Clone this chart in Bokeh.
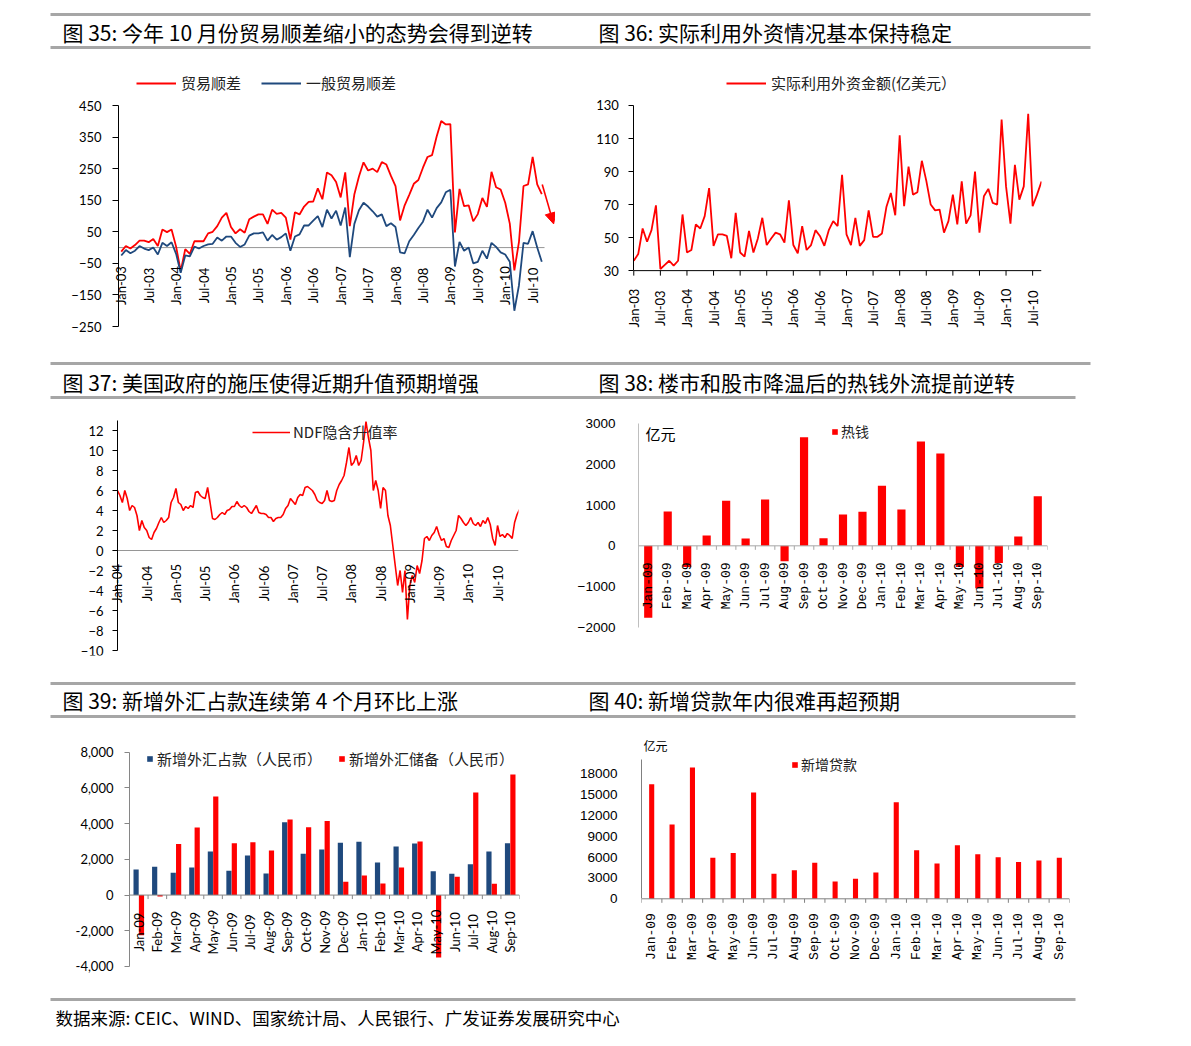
import math
from bokeh.plotting import figure
from bokeh.layouts import column, row
from bokeh.models import (Range1d, FixedTicker, Legend, LegendItem, Label, Arrow,
                          NormalHead, ColumnDataSource, Span)
from bokeh.transform import dodge
from bokeh.core.properties import value
from bokeh.embed import file_html
from bokeh.resources import INLINE

RED = "#FF0000"
BLUE = "#1F497D"
CJK = "Noto Sans CJK SC"
NUM = "Lato"
ARIAL = "Liberation Sans"
MONO = "Liberation Mono"

# ---------------- data ----------------
# Fig 35: monthly trade balance, Jan-03 .. Sep-10 (100 million USD)
trade_balance = [
    -13, 5, -3, 8, 22, 22, 17, 27, 5, 57, 49, 57,
    3, -75, -5, -20, 20, 20, 20, 45, 50, 68, 95, 110,
    65, 45, 58, 47, 90, 98, 105, 105, 75, 120, 107, 110,
    95, 25, 112, 105, 130, 145, 146, 188, 153, 238, 229, 208,
    159, 238, 68, 169, 225, 270, 244, 250, 239, 271, 263, 227,
    195, 86, 134, 167, 202, 214, 253, 287, 293, 352, 401, 390,
    391, 48, 186, 131, 134, 83, 106, 157, 129, 240, 191, 184,
    142, 76, -72, 17, 195, 200, 287, 200, 169]
general_trade = [
    -25, -8, -18, -10, 5, -3, -8, 0, -22, 15, 5, 17,
    -20, -80, -25, -28, 3, -3, 5, 10, 12, 32, 22, 35,
    35, 15, 2, 10, 38, 45, 45, 48, 22, 40, 25, 33,
    45, -10, 35, 42, 70, 70, 85, 100, 65, 120, 92, 117,
    70, 127, -30, 75, 118, 142, 130, 115, 98, 105, 68, 77,
    65, -15, -18, 20, 40, 62, 82, 120, 95, 125, 143, 175,
    183, -60, 18, -10, 0, -50, -45, -10, -35, 15, 2, -15,
    -22, -45, -200, -120, 15, 12, 52, 0, -45]
fig35_tick_labels = ["Jan-03", "Jul-03", "Jan-04", "Jul-04", "Jan-05", "Jul-05",
                     "Jan-06", "Jul-06", "Jan-07", "Jul-07", "Jan-08", "Jul-08",
                     "Jan-09", "Jul-09", "Jan-10", "Jul-10"]
arrow_start = (92.1, 200)
arrow_end = (94.6, 75)

# Fig 36: FDI actually utilised, Jan-03 .. Sep-10 (100 million USD)
fdi = [
    36, 40, 55.5, 47.5, 54.5, 69.5, 31, 33.5, 36, 33, 36, 64,
    41, 42.5, 58, 55.5, 63, 80, 45, 52, 52, 51, 37.5, 65,
    41, 38.5, 54, 41, 49.5, 62, 45.5, 49.5, 53, 52, 47, 72.5,
    45.5, 40.5, 57, 42.5, 45.5, 54.5, 51, 45, 54.5, 60, 57, 88,
    52, 45.5, 62, 45, 48.5, 66.5, 50.5, 50.5, 52.5, 68.5, 77, 63.5,
    112, 69, 93, 76, 77.5, 96.5, 84.5, 70, 66.5, 67, 53, 60,
    76, 58, 84, 58.5, 63.5, 90, 53, 75, 79.5, 71, 70, 121.5,
    81, 58.5, 94, 73, 81, 125, 69, 76, 84]
fig36_tick_labels = fig35_tick_labels

# Fig 37: NDF implied appreciation (%), read every half month from Jan-04
ndf = [
    6.0, 5.5, 4.8, 6.0, 5.2, 4.0, 4.5, 4.3, 3.5, 2.0, 3.0, 2.3,
    2.0, 1.3, 1.1, 1.8, 2.2, 2.8, 3.3, 2.8, 3.0, 3.3, 4.8, 5.3,
    6.2, 4.8, 4.6, 4.0, 4.4, 4.2, 4.5, 4.3, 5.8, 5.9, 5.5, 5.3,
    5.2, 6.3, 4.8, 3.2, 3.1, 3.3, 3.6, 3.8, 3.6, 4.0, 4.1, 4.4,
    4.4, 4.9, 4.5, 4.3, 4.5, 4.3, 3.9, 3.7, 4.1, 4.5, 3.8, 3.7,
    3.7, 3.6, 3.3, 3.3, 2.9, 3.2, 3.3, 3.3, 3.6, 4.2, 4.5, 5.2,
    4.9, 4.6, 5.3, 5.6, 5.5, 6.3, 6.4, 6.2, 6.0, 5.6, 5.0, 4.8,
    4.7, 5.0, 6.0, 5.0, 4.9, 5.0, 6.0, 6.6, 7.0, 7.5, 8.8, 10.3,
    8.5, 8.8, 9.5, 8.5, 9.0, 10.8, 12.9, 11.3, 10.0, 6.0, 7.0, 6.0,
    4.2, 6.3, 6.0, 3.5, 2.5, 0.5, -1.5, -3.5, -2.0, -4.2, -2.0, -6.9,
    -3.5, -2.5, -3.2, -1.5, -2.3, -1.0, 1.2, 1.4, 1.0, 1.5, 1.8, 2.4,
    1.6, 1.0, 1.2, 0.4, 0.3, 1.0, 1.5, 2.0, 3.5, 3.2, 2.8, 2.5,
    2.8, 3.3, 2.7, 2.5, 2.8, 2.4, 3.0, 2.7, 3.3, 2.6, 1.2, 0.5,
    2.5, 1.4, 1.6, 1.3, 1.7, 1.5, 1.2, 2.8, 3.6, 4.1]
ndf_month = [0.5 * k for k in range(len(ndf))]  # months since Jan-04
fig37_tick_labels = ["Jan-04", "Jul-04", "Jan-05", "Jul-05", "Jan-06", "Jul-06",
                     "Jan-07", "Jul-07", "Jan-08", "Jul-08", "Jan-09", "Jul-09",
                     "Jan-10", "Jul-10"]

# Fig 38-40: monthly, Jan-09 .. Sep-10
months = ["Jan-09", "Feb-09", "Mar-09", "Apr-09", "May-09", "Jun-09", "Jul-09",
          "Aug-09", "Sep-09", "Oct-09", "Nov-09", "Dec-09", "Jan-10", "Feb-10",
          "Mar-10", "Apr-10", "May-10", "Jun-10", "Jul-10", "Aug-10", "Sep-10"]
hot_money = [-1770, 844, -520, 254, 1107, 180, 1139, -377, 2672, 189, 770, 836,
             1475, 893, 2566, 2270, -520, -1041, -420, 230, 1221]
fx_funds = [1431, 1581, 1245, 1545, 2440, 1357, 2215, 1208, 4082, 2309, 2551, 2924,
            2980, 1823, 2719, 2887, 1338, 1189, 1730, 2440, 2905]
fx_reserves = [-2250, -80, 2863, 3778, 5514, 2900, 2956, 2490, 4227, 3800, 4153, 741,
               1095, 648, 1544, 2993, -3500, 1021, 5739, 629, 6748]
new_loans = [16500, 10700, 18900, 5900, 6600, 15300, 3600, 4100, 5200, 2500, 2900, 3800,
             13900, 7000, 5100, 7700, 6400, 6000, 5300, 5500, 5900]

titles = {
    "35": "图 35: 今年 10 月份贸易顺差缩小的态势会得到逆转",
    "36": "图 36: 实际利用外资情况基本保持稳定",
    "37": "图 37: 美国政府的施压使得近期升值预期增强",
    "38": "图 38: 楼市和股市降温后的热钱外流提前逆转",
    "39": "图 39: 新增外汇占款连续第 4 个月环比上涨",
    "40": "图 40: 新增贷款年内很难再超预期",
}
source_note = "数据来源: CEIC、WIND、国家统计局、人民银行、广发证券发展研究中心"


# ---------------- helpers ----------------
def make_fig(w, h, xr, yr, bl, br, bt, bb):
    p = figure(width=w, height=h, x_range=xr, y_range=yr, toolbar_location=None,
               output_backend="svg", min_border_left=bl, min_border_right=br,
               min_border_top=bt, min_border_bottom=bb)
    p.outline_line_color = None
    p.xgrid.visible = False
    p.ygrid.visible = False
    p.background_fill_color = "white"
    p.border_fill_color = "white"
    return p


def style_yaxis(ax, font, size, line_color, tick_out, standoff, ticks, bounds,
                overrides=None, at=None):
    ax.axis_line_color = line_color
    ax.axis_line_width = 1
    ax.major_tick_line_color = line_color if tick_out else None
    ax.major_tick_out = tick_out
    ax.major_tick_in = 0
    ax.minor_tick_line_color = None
    ax.major_label_text_font = font
    ax.major_label_text_font_size = size
    ax.major_label_text_color = "#000000"
    ax.major_label_standoff = standoff
    ax.ticker = FixedTicker(ticks=ticks)
    ax.bounds = bounds
    if overrides:
        ax.major_label_overrides = overrides
    if at is not None:
        ax.fixed_location = at


def base_axis(p, at, color, ticks_x=None, tick_len=4, span=None):
    # horizontal category axis drawn at a data level, with downward tick marks
    if span is None:
        p.add_layout(Span(location=at, dimension="width", line_color=color, line_width=1))
    else:
        p.segment(x0=span[0], y0=at, x1=span[1], y1=at, line_color=color, line_width=1)
    if ticks_x:
        p.ray(x=ticks_x, y=[at] * len(ticks_x), length=tick_len, length_units="screen",
              angle=-math.pi / 2, line_color=color, line_width=1)


def axis_labels(p, xs, labels, at, offset, font, size="13px"):
    # vertical category labels centred below the axis level (Excel style)
    p.text(x=xs, y=[at] * len(xs), text=labels, angle=math.pi / 2, text_align="center",
           text_baseline="middle", y_offset=offset, text_font=value(font),
           text_font_size=value(size), text_color="#000000")


def make_legend(items, x, y, size, glyph_w, glyph_h, spacing=20, standoff=5):
    return Legend(items=items, location=(x, y), orientation="horizontal", padding=0,
                  margin=0, spacing=spacing, glyph_width=glyph_w, glyph_height=glyph_h,
                  label_standoff=standoff, label_text_font=CJK, label_text_font_size=size,
                  label_text_color="#222222", border_line_color=None,
                  background_fill_alpha=0)


def strip(h, lines, texts, size="21px"):
    s = figure(width=1191, height=h, x_range=Range1d(0, 1191), y_range=Range1d(h, 0),
               toolbar_location=None, output_backend="svg", min_border=0,
               x_axis_type=None, y_axis_type=None)
    s.outline_line_color = None
    s.xgrid.visible = False
    s.ygrid.visible = False
    for (x0, x1, y) in lines:
        s.segment(x0=x0, y0=y, x1=x1, y1=y, line_color="#A6A6A6", line_width=3)
    for (x, y, t) in texts:
        s.add_layout(Label(x=x, y=y, text=t, text_font=CJK, text_font_size=size,
                           text_color="#000000", text_baseline="middle"))
    return s


# ======== Row 1 (frames: top 10, bottom 15 in both plots) ========
# ---------------- Fig 35 ----------------
n1 = len(trade_balance)
f1 = make_fig(555, 300, Range1d(-12.2, 95.0), Range1d(-294.3, 576.7), 65, 0, 10, 15)
idx1 = list(range(n1))
f1.segment(x0=-0.6, y0=0, x1=n1 - 0.4, y1=0, line_color="#969696", line_width=1)
r_tb = f1.line(idx1, trade_balance, line_color=RED, line_width=1.8)
r_gt = f1.line(idx1, general_trade, line_color=BLUE, line_width=1.8)
f1.add_layout(Arrow(end=NormalHead(size=11, fill_color=RED, line_color=RED),
                    x_start=arrow_start[0], y_start=arrow_start[1],
                    x_end=arrow_end[0], y_end=arrow_end[1],
                    line_color=RED, line_width=1.6))
style_yaxis(f1.yaxis[0], NUM, "13px", "#000000", 6, 11,
            [-250, -150, -50, 50, 150, 250, 350, 450], (-250, 450), at=-0.6)
f1.xaxis.visible = False
axis_labels(f1, [6 * k for k in range(len(fig35_tick_labels))], fig35_tick_labels,
            0, 38, NUM)
f1.add_layout(make_legend([LegendItem(label="贸易顺差", renderers=[r_tb]),
                           LegendItem(label="一般贸易顺差", renderers=[r_gt])],
                          71, 247, "15px", 40, 20, spacing=20))

# ---------------- Fig 36 ----------------
nf = len(fdi)
f2 = make_fig(636, 300, Range1d(-9.54, nf - 1), Range1d(-12.3, 154.2), 36, 150, 10, 15)
r_fdi = f2.line(list(range(nf)), fdi, line_color=RED, line_width=1.8)
style_yaxis(f2.yaxis[0], NUM, "13px", "#000000", 5, 10, [30, 50, 70, 90, 110, 130],
            (30, 130), at=0)
f2.xaxis.visible = False
fdi_ticks = [6 * k for k in range(len(fig36_tick_labels))]
base_axis(f2, 30, "#000000", fdi_ticks, tick_len=5, span=(0, nf - 1))
axis_labels(f2, fdi_ticks, fig36_tick_labels, 30, 37.5, NUM)
f2.add_layout(make_legend([LegendItem(label="实际利用外资金额(亿美元）", renderers=[r_fdi])],
                          135, 247, "15px", 40, 20))

# ======== Row 2 (frames: top 10, bottom 20) ========
# ---------------- Fig 37 ----------------
f3 = make_fig(570, 270, Range1d(-7.59, 82.3), Range1d(-10.5, 13.5), 80, 52, 10, 20)
f3.segment(x0=-1, y0=0, x1=82.3, y1=0, line_color="#969696", line_width=1)
r_ndf = f3.line(ndf_month, ndf, line_color=RED, line_width=1.6)
style_yaxis(f3.yaxis[0], NUM, "13px", "#000000", 5, 9, list(range(-10, 13, 2)), (-10, 13),
            at=0)
f3.xaxis.visible = False
axis_labels(f3, [6 * k for k in range(len(fig37_tick_labels))], fig37_tick_labels,
            0, 33, NUM)
f3.add_layout(make_legend([LegendItem(label="NDF隐含升值率", renderers=[r_ndf])],
                          172, 213, "15px", 38, 20, standoff=3))

# ---------------- Fig 38 ----------------
nm = len(months)
cat_x = list(range(nm))
cat_bounds = [k - 0.5 for k in range(nm + 1)]

f4 = make_fig(621, 270, Range1d(-0.5, nm - 0.5), Range1d(-2696, 3204), 68, 144, 10, 20)
src4 = ColumnDataSource(dict(x=cat_x, v=hot_money, m=months))
base_axis(f4, 0, "#A6A6A6", cat_bounds)
r_hot = f4.vbar(x="x", top="v", bottom=0, width=0.42, source=src4, fill_color=RED,
                line_color=None)
style_yaxis(f4.yaxis[0], ARIAL, "13.5px", "#BFBFBF", 0, 23,
            [-2000, -1000, 0, 1000, 2000, 3000], (-2000, 3000))
f4.xaxis.visible = False
axis_labels(f4, cat_x, months, 0, 40, MONO)
f4.add_layout(make_legend([LegendItem(label="热钱", renderers=[r_hot])],
                          193, 214, "14px", 7, 7, standoff=3))
f4.add_layout(Label(x=7, y=233, x_units="screen", y_units="screen", text="亿元",
                    text_font=CJK, text_font_size="15px", text_color="#000000",
                    text_baseline="top"))

# ======== Row 3 (frames: top 10, bottom 10) ========
# ---------------- Fig 39 ----------------
f5 = make_fig(570, 265, Range1d(-0.5, nm - 0.5), Range1d(-4784, 8935), 129, 51, 10, 10)
src5 = ColumnDataSource(dict(x=cat_x, a=fx_funds, b=fx_reserves))
base_axis(f5, 0, "#868686", cat_bounds)
r_a = f5.vbar(x=dodge("x", -0.145), top="a", bottom=0, width=0.28, source=src5,
              fill_color=BLUE, line_color=None)
r_b = f5.vbar(x=dodge("x", 0.145), top="b", bottom=0, width=0.28, source=src5,
              fill_color=RED, line_color=None)
style_yaxis(f5.yaxis[0], NUM, "13px", "#868686", 5, 11, list(range(-4000, 8001, 2000)),
            (-4000, 8000), overrides={v: f"{v:,}" for v in range(-4000, 8001, 2000)})
f5.xaxis.visible = False
axis_labels(f5, cat_x, months, 0, 37, NUM)
f5.add_layout(make_legend([LegendItem(label="新增外汇占款（人民币）", renderers=[r_a]),
                           LegendItem(label="新增外汇储备（人民币）", renderers=[r_b])],
                          17, 211, "15px", 7, 7, spacing=16, standoff=4))

# ---------------- Fig 40 ----------------
f6 = make_fig(621, 265, Range1d(-0.5, nm - 0.5), Range1d(-11765, 23517), 71, 122, 10, 10)
src6 = ColumnDataSource(dict(x=cat_x, v=new_loans))
base_axis(f6, 0, "#808080", cat_bounds)
r_loan = f6.vbar(x="x", top="v", bottom=0, width=0.25, source=src6, fill_color=RED,
                 line_color=None)
style_yaxis(f6.yaxis[0], ARIAL, "13.5px", "#808080", 0, 24,
            list(range(0, 18001, 3000)), (0, 20000))
f6.xaxis.visible = False
axis_labels(f6, cat_x, months, 0, 37.7, MONO)
f6.add_layout(make_legend([LegendItem(label="新增贷款", renderers=[r_loan])],
                          150, 206, "14px", 7, 7, standoff=3))
f6.add_layout(Label(x=2, y=235, x_units="screen", y_units="screen", text="亿元",
                    text_font=CJK, text_font_size="12px", text_color="#000000",
                    text_baseline="middle"))

# ---------------- title strips ----------------
s1 = strip(55, [(50, 1090, 14), (50, 1090, 47)],
           [(62, 31, titles["35"]), (598, 31, titles["36"])])
s2 = strip(50, [(50, 1090, 8), (50, 1075, 42)],
           [(62, 26, titles["37"]), (598, 26, titles["38"])])
s3 = strip(50, [(50, 1075, 8), (50, 1075, 41)],
           [(62, 24, titles["39"]), (588, 24, titles["40"])])
s4 = strip(50, [(50, 1075, 9)], [(55, 27, source_note)], size="17.5px")

layout = column(s1, row(f1, f2), s2, row(f3, f4), s3, row(f5, f6), s4)

with open("out.html", "w") as fh:
    fh.write(file_html(layout, INLINE))
